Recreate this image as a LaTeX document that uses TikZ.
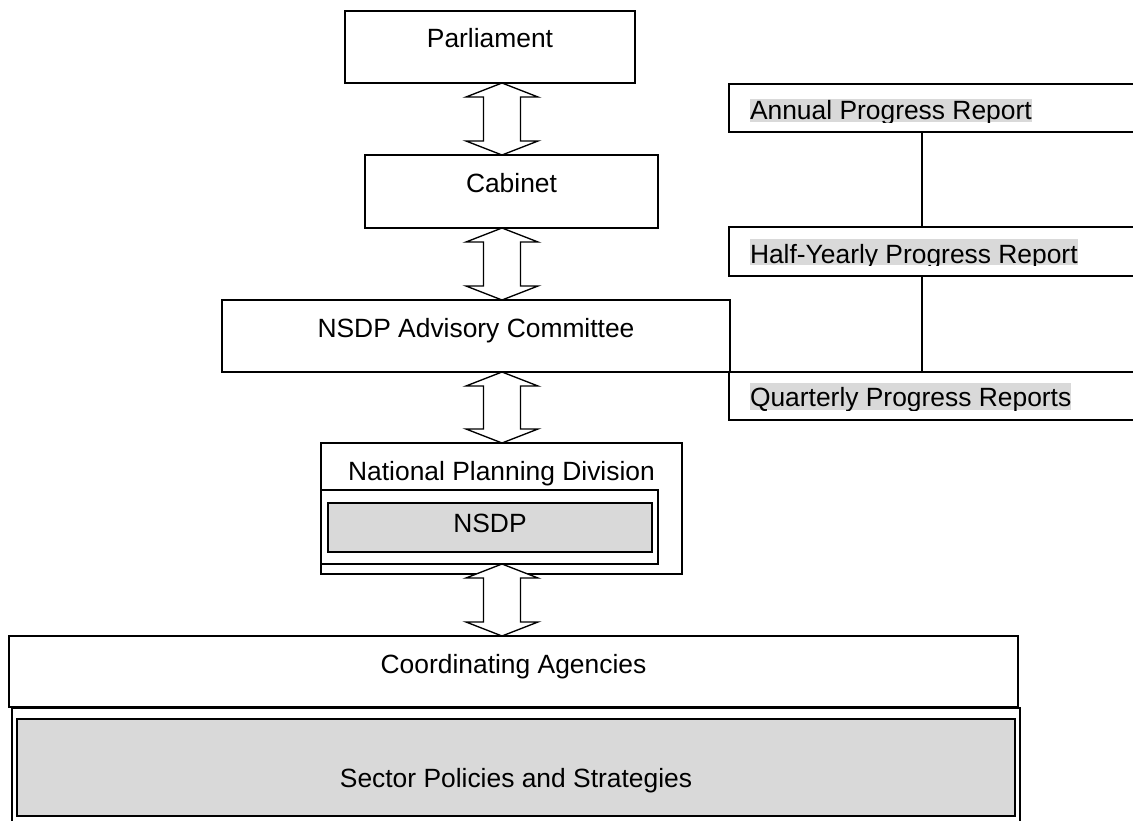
\documentclass[tikz,border=0pt]{standalone}
\usepackage{fontspec}
\setmainfont{Liberation Sans}
\usetikzlibrary{calc}
\definecolor{hl}{HTML}{D9D9D9}
\tikzset{
  txt/.style={font=\fontsize{19.8}{24}\selectfont},
  box/.style={draw, line width=2pt, inner sep=0pt, outer sep=0pt, anchor=north west, txt},
  frame/.style={draw, line width=1.6pt, inner sep=0pt, outer sep=0pt, anchor=north west},
  graybox/.style={box, fill=hl, line width=1.6pt},
  rbox/.style={draw, line width=1.5pt, inner sep=0pt, outer sep=0pt, anchor=north west, minimum width=315pt},
  hltext/.style={fill=hl, inner sep=0pt, outer sep=0pt, anchor=base west, txt},
  conn/.style={line width=1.3pt},
  blockarrow/.style={draw, fill=white, line width=1pt, line join=miter}
}
\newcommand\dblarr[2]{%
  \draw[blockarrow] let \p1=(ax|-#1.south), \p2=(ax|-#2.north) in
    (\x1,\y1) -- (\x1-27pt,\y1-10.5pt) -- (\x1-13.9pt,\y1-10.5pt) --
    (\x1-13.9pt,\y2+10.5pt) -- (\x1-27pt,\y2+10.5pt) -- (\x1,\y2) --
    (\x1+27pt,\y2+10.5pt) -- (\x1+13.9pt,\y2+10.5pt) --
    (\x1+13.9pt,\y1-10.5pt) -- (\x1+27pt,\y1-10.5pt) -- cycle;}
\begin{document}
\begin{tikzpicture}[x=0.75pt, y=-0.75pt]
\useasboundingbox (0,0) rectangle (1133,821);
\clip (0,0) rectangle (1133,821);
\fill[white] (0,0) rectangle (1133,821);
\coordinate (ax) at (502,0);
\coordinate (vx) at (922,0);

% main chain
\node[box, minimum width=217.5pt, text height=27pt, text depth=27pt] (parl) at (345,11) {Parliament};
\node[box, minimum width=219.75pt, text height=27.75pt, text depth=27pt] (cab) at (365,155) {Cabinet};
\node[box, minimum width=381pt, text height=27.75pt, text depth=26.25pt] (adv) at (222,300) {NSDP Advisory Committee};
\node[box, minimum width=270.75pt, text height=27.75pt, text depth=70.5pt] (npd) at (321,443) {National Planning Division};
\node[frame, minimum width=252.75pt, minimum height=55.5pt] (nsdpf) at (321,490) {};
\node[graybox, minimum width=243pt, text height=21.75pt, text depth=15pt] (nsdp) at (328,503) {NSDP};
\node[box, minimum width=756.75pt, text height=27.75pt, text depth=25.5pt] (coord) at (9,636) {Coordinating Agencies};
\node[box, minimum width=756pt, minimum height=97.5pt] (secf) at (12,708) {};
\node[graybox, minimum width=748.5pt, text height=51pt, text depth=21.75pt] (sec) at (17,719) {Sector Policies and Strategies};

% double arrows
\dblarr{parl}{cab}
\dblarr{cab}{adv}
\dblarr{adv}{npd}
\dblarr{nsdpf}{coord}

% report column
\node[rbox, minimum height=36pt] (ann) at (729,84) {};
\node[rbox, minimum height=36.75pt] (half) at (729,227) {};
\node[rbox, minimum height=36pt] (qtr) at (729,372) {};
\begin{scope}
  \clip (740,99) rectangle (1120,122);
  \node[hltext, text height=15pt, text depth=2.25pt] (annt) at (750,119) {Annual Progress Report};
\end{scope}
\begin{scope}
  \clip (740,239) rectangle (1120,265);
  \node[hltext, text height=18pt, text depth=1.5pt] (halft) at (750,263) {Half-Yearly Progress Report};
\end{scope}
\begin{scope}
  \clip (740,383) rectangle (1120,410);
  \node[hltext, text height=17.25pt, text depth=3pt] (qtrt) at (750,406) {Quarterly Progress Reports};
\end{scope}
\draw[conn] (vx|-ann.south) -- (vx|-half.north);
\draw[conn] (vx|-half.south) -- (vx|-qtr.north);
\end{tikzpicture}
\end{document}
